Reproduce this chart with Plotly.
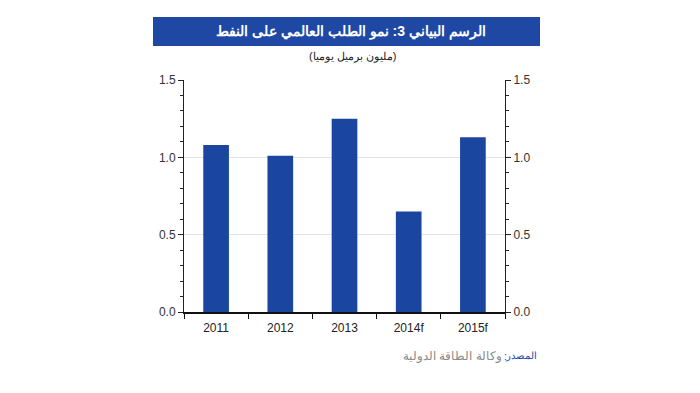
import plotly.graph_objects as go

categories = ["2011", "2012", "2013", "2014f", "2015f"]
values = [1.08, 1.01, 1.25, 0.65, 1.13]
y_ticks = [0.0, 0.5, 1.0, 1.5]
y_tick_labels = ["0.0", "0.5", "1.0", "1.5"]

title_text = "الرسم البياني 3: نمو الطلب العالمي على النفط"
subtitle_text = "(مليون برميل يوميا)"
source_label = "المصدر"
source_colon = ":"
source_text = "وكالة الطاقة الدولية"

BAR = "#1a46a0"
FONT = "Liberation Sans, Arial, sans-serif"

# plot area in page pixels (page has an 8px body offset)
PX0, PX1, PY0, PY1 = 184, 505, 80, 312
W, H = PX1 - PX0, PY1 - PY0


def px(x):
    return (x - PX0) / W


def py(y):
    return (PY1 - y) / H


fig = go.Figure()
fig.add_trace(go.Bar(x=categories, y=values, marker=dict(color=BAR, line=dict(width=0)),
                     width=0.4, showlegend=False, hoverinfo="x+y"))
fig.add_trace(go.Scatter(x=categories, y=values, yaxis="y2", mode="markers",
                         marker=dict(opacity=0), showlegend=False, hoverinfo="skip"))

axis_common = dict(
    range=[0, 1.5], tickvals=y_ticks, ticktext=y_tick_labels,
    showline=True, linecolor="#222", linewidth=1,
    ticks="outside", ticklen=5, tickcolor="#222", tickwidth=1,
    minor=dict(ticks="outside", ticklen=3, dtick=0.1, tickcolor="#222", showgrid=False),
    tickfont=dict(family=FONT, size=12, color="#333"),
    zeroline=False, fixedrange=True,
)

fig.update_layout(
    width=700, height=393,
    margin=dict(l=PX0 - 8, r=700 - PX1 + 8, t=PY0 - 8, b=393 - PY1 + 8),
    paper_bgcolor="white", plot_bgcolor="white",
    xaxis=dict(
        showline=True, linecolor="#111", linewidth=1.5,
        ticks="outside", tickson="boundaries", ticklen=5, tickcolor="#111",
        tickfont=dict(family=FONT, size=12, color="#222"),
        ticklabelstandoff=4,
        showgrid=False, fixedrange=True,
    ),
    yaxis=dict(**axis_common, side="left", showgrid=True, gridcolor="#e3e3e3", gridwidth=1),
    yaxis2=dict(**axis_common, side="right", overlaying="y", showgrid=False),
    shapes=[dict(type="rect", xref="paper", yref="paper",
                 x0=px(153), x1=px(540), y0=py(46), y1=py(17),
                 fillcolor="#1f48a5", line=dict(width=0), layer="above")],
    annotations=[
        dict(text="<b>" + title_text + "</b>", x=px(351), y=py(31.5),
             xref="paper", yref="paper", xanchor="center", yanchor="middle",
             showarrow=False, font=dict(family=FONT, size=14, color="white")),
        dict(text=subtitle_text, x=px(352), y=py(56),
             xref="paper", yref="paper", xanchor="center", yanchor="middle",
             showarrow=False, font=dict(family=FONT, size=11, color="#222")),
        dict(text=source_label, x=px(539), y=py(356),
             xref="paper", yref="paper", xanchor="right", yanchor="middle",
             showarrow=False, font=dict(family=FONT, size=10, color="#1f48a5")),
        dict(text=source_colon, x=px(509), y=py(356),
             xref="paper", yref="paper", xanchor="right", yanchor="middle",
             showarrow=False, font=dict(family=FONT, size=10, color="#1f48a5")),
        dict(text=source_text, x=px(504), y=py(356),
             xref="paper", yref="paper", xanchor="right", yanchor="middle",
             showarrow=False, font=dict(family=FONT, size=12, color="#888")),
    ],
)

fig.write_html("out.html")
